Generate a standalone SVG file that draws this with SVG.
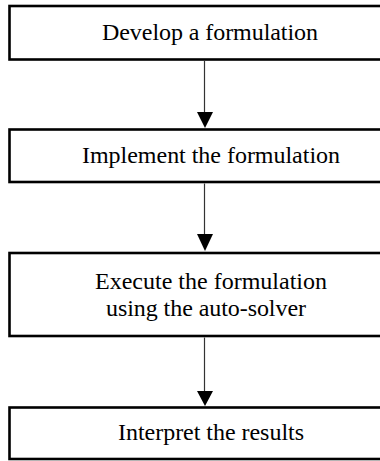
<svg xmlns="http://www.w3.org/2000/svg" width="380" height="461" viewBox="0 0 380 461">
<style>
.box{fill:#fff;stroke:#000;stroke-width:2.6}
.lbl{font-size:24px;fill:#000;text-anchor:middle}
.conn{stroke:#333;stroke-width:1.2;fill:none}
.ah{fill:#000}
</style>
<rect width="380" height="461" fill="#fff"/>
<g font-family="Liberation Serif, Times New Roman, serif">
<g id="n1"><rect class="box" x="9.5" y="6" width="400" height="53.5"/><text class="lbl" x="210" y="40" textLength="216" lengthAdjust="spacing">Develop a formulation</text></g>
<g id="n2"><rect class="box" x="9.5" y="129.5" width="400" height="52.5"/><text class="lbl" x="211" y="163" textLength="258" lengthAdjust="spacing">Implement the formulation</text></g>
<g id="n3"><rect class="box" x="9.5" y="253" width="400" height="83"/><text class="lbl" x="211" y="289" textLength="232" lengthAdjust="spacing">Execute the formulation</text><text class="lbl" x="206" y="316" textLength="200" lengthAdjust="spacing">using the auto-solver</text></g>
<g id="n4"><rect class="box" x="9.5" y="407.5" width="400" height="51.5"/><text class="lbl" x="211" y="440" textLength="186" lengthAdjust="spacing">Interpret the results</text></g>
</g>
<g id="connectors">
<line class="conn" x1="204.5" y1="61" x2="204.5" y2="114"/><path class="ah" d="M197,112 L213,112 L205,128 Z"/>
<line class="conn" x1="204.5" y1="183.5" x2="204.5" y2="236"/><path class="ah" d="M197,234 L213,234 L205,251 Z"/>
<line class="conn" x1="204.5" y1="337.5" x2="204.5" y2="393"/><path class="ah" d="M197,391 L213,391 L205,406 Z"/>
</g>
</svg>
